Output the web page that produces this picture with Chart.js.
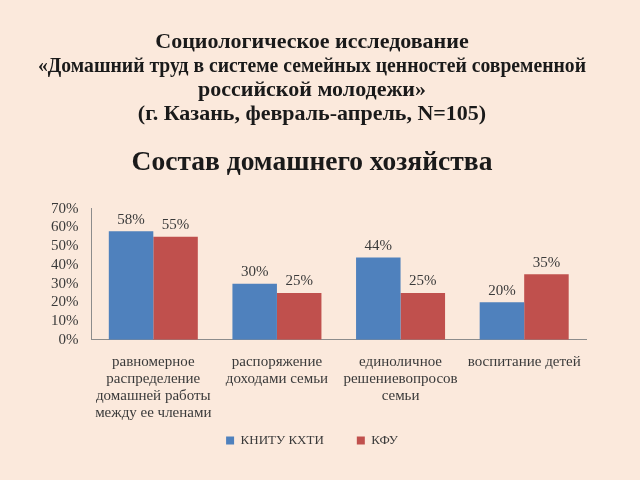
<!DOCTYPE html>
<html lang="ru">
<head>
    <meta charset="UTF-8">
    <title>Состав домашнего хозяйства</title>
    <script src="https://cdn.jsdelivr.net/npm/chart.js@4.4.1/dist/chart.umd.min.js"></script>
    <style>
        html, body { margin: 0; padding: 0; background: #fbe9dc; }
        #wrap { width: 640px; height: 480px; }
    </style>
</head>
<body>
    <div id="wrap"><canvas id="chart"></canvas></div>
    <script>
        // Data
        const categories = [
            ['равномерное', 'распределение', 'домашней работы', 'между ее членами'],
            ['распоряжение', 'доходами семьи'],
            ['единоличное', 'решениевопросов', 'семьи'],
            ['воспитание детей']
        ];
        const seriesNames = ['КНИТУ КХТИ', 'КФУ'];
        const kniti = [58, 30, 44, 20];
        const kfu = [55, 25, 25, 35];
        const yTicks = [0, 10, 20, 30, 40, 50, 60, 70];

        const titleLines = [
            'Социологическое исследование',
            '«Домашний труд в системе семейных ценностей современной',
            'российской молодежи»',
            '(г. Казань, февраль-апрель, N=105)'
        ];
        const heading = 'Состав домашнего хозяйства';

        const serif = "'Liberation Serif', 'Times New Roman', serif";

        // value labels above bars
        const barLabels = {
            id: 'barLabels',
            afterDatasetsDraw(chart) {
                const ctx = chart.ctx;
                ctx.save();
                ctx.font = '15px ' + serif;
                ctx.fillStyle = '#3a3a3a';
                ctx.textAlign = 'center';
                ctx.textBaseline = 'bottom';
                chart.data.datasets.forEach((ds, i) => {
                    chart.getDatasetMeta(i).data.forEach((bar, j) => {
                        ctx.fillText(ds.data[j] + '%', bar.x, bar.y - 4);
                    });
                });
                ctx.restore();
            }
        };

        new Chart(document.getElementById('chart'), {
            type: 'bar',
            data: {
                labels: categories,
                datasets: [
                    { label: seriesNames[0], data: kniti, backgroundColor: '#4f81bd' },
                    { label: seriesNames[1], data: kfu, backgroundColor: '#c0504d' }
                ]
            },
            options: {
                responsive: true,
                maintainAspectRatio: false,
                animation: false,
                layout: { padding: { left: 38, right: 54, top: 0, bottom: 23 } },
                datasets: { bar: { categoryPercentage: 0.72, barPercentage: 1.0 } },
                plugins: {
                    title: {
                        display: true,
                        text: titleLines,
                        font: { family: serif, size: 22, weight: 'bold', lineHeight: 1.1 },
                        color: '#1a1a1a',
                        padding: { top: 30, bottom: 10 }
                    },
                    subtitle: {
                        display: true,
                        text: heading,
                        font: { family: serif, size: 27.5, weight: 'bold', lineHeight: 1.2 },
                        color: '#1a1a1a',
                        padding: { top: 10, bottom: 29 }
                    },
                    legend: {
                        position: 'bottom',
                        labels: {
                            font: { family: serif, size: 13 },
                            color: '#3a3a3a',
                            boxWidth: 8,
                            boxHeight: 8,
                            padding: 33
                        }
                    },
                    tooltip: { enabled: false }
                },
                scales: {
                    x: {
                        grid: { display: false, drawTicks: false },
                        border: { display: true, color: '#8c8c8c' },
                        afterFit(axis) {
                            // let the legend sit closer, labels may run past the axis box
                            axis.height -= 34;
                            axis._computeLabelArea = () => null;
                        },
                        ticks: {
                            font: { family: serif, size: 15, lineHeight: 1.12 },
                            color: '#3a3a3a',
                            maxRotation: 0,
                            autoSkip: false,
                            padding: 14
                        }
                    },
                    y: {
                        min: 0,
                        max: 70,
                        afterBuildTicks(axis) {
                            axis.ticks = yTicks.map(v => ({ value: v }));
                        },
                        grid: { display: false, drawTicks: false },
                        border: { display: true, color: '#8c8c8c' },
                        ticks: {
                            font: { family: serif, size: 15 },
                            color: '#3a3a3a',
                            padding: 13,
                            autoSkip: false,
                            callback: v => v + '%'
                        }
                    }
                }
            },
            plugins: [barLabels]
        });
    </script>
</body>
</html>
